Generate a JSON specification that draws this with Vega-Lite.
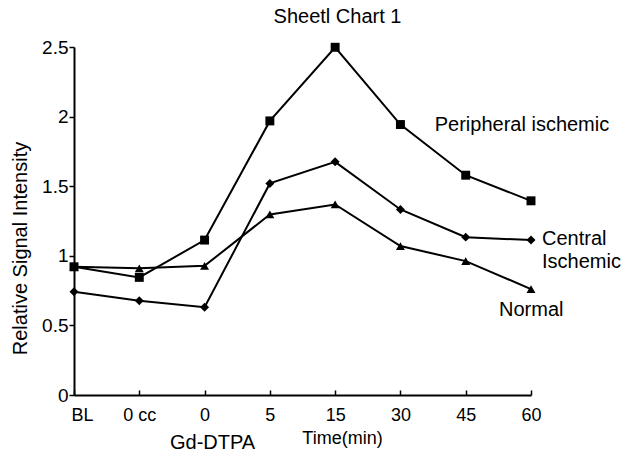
{
  "$schema": "https://vega.github.io/schema/vega-lite/v6.json",
  "width": 457,
  "height": 348,
  "autosize": {"type": "none"},
  "padding": {"left": 74, "top": 47, "right": 102, "bottom": 69},
  "background": "white",
  "title": {"text": "Sheetl Chart 1", "fontSize": 20, "font": "Liberation Sans", "fontWeight": "normal", "color": "black", "anchor": "middle", "frame": "group", "dx": 35, "offset": 11},
  "config": {"view": {"stroke": null}, "font": "Liberation Sans", "axis": {"titleFontWeight": "normal", "titleFont": "Liberation Sans", "labelFont": "Liberation Sans"}},
  "datasets": {
    "series": [
      {"series": "Peripheral ischemic", "t": "BL", "v": 0.921},
      {"series": "Peripheral ischemic", "t": "0 cc", "v": 0.845},
      {"series": "Peripheral ischemic", "t": "0", "v": 1.113},
      {"series": "Peripheral ischemic", "t": "5", "v": 1.969},
      {"series": "Peripheral ischemic", "t": "15", "v": 2.498},
      {"series": "Peripheral ischemic", "t": "30", "v": 1.943},
      {"series": "Peripheral ischemic", "t": "45", "v": 1.579},
      {"series": "Peripheral ischemic", "t": "60", "v": 1.395},
      {"series": "Central ischemic", "t": "BL", "v": 0.742},
      {"series": "Central ischemic", "t": "0 cc", "v": 0.677},
      {"series": "Central ischemic", "t": "0", "v": 0.63},
      {"series": "Central ischemic", "t": "5", "v": 1.52},
      {"series": "Central ischemic", "t": "15", "v": 1.675},
      {"series": "Central ischemic", "t": "30", "v": 1.333},
      {"series": "Central ischemic", "t": "45", "v": 1.134},
      {"series": "Central ischemic", "t": "60", "v": 1.113},
      {"series": "Normal", "t": "BL", "v": 0.921},
      {"series": "Normal", "t": "0 cc", "v": 0.91},
      {"series": "Normal", "t": "0", "v": 0.928},
      {"series": "Normal", "t": "5", "v": 1.297},
      {"series": "Normal", "t": "15", "v": 1.369},
      {"series": "Normal", "t": "30", "v": 1.07},
      {"series": "Normal", "t": "45", "v": 0.962},
      {"series": "Normal", "t": "60", "v": 0.761}
    ]
  },
  "layer": [
    {
      "data": {"name": "series"},
      "mark": {"type": "line", "color": "black", "strokeWidth": 2},
      "encoding": {
        "x": {
          "field": "t", "type": "ordinal",
          "scale": {"type": "point", "domain": ["BL", "0 cc", "0", "5", "15", "30", "45", "60"], "padding": 0},
          "axis": {
            "title": "Time(min)", "titleFontSize": 18, "titleFontWeight": "normal", "titleColor": "black",
            "titleX": 268, "titleY": 43, "titleBaseline": "middle", "titleAlign": "center",
            "labelAngle": 0, "labelFontSize": 18, "labelColor": "black", "labelPadding": 16,
            "labelOffset": {"condition": {"test": "datum.value === 'BL'", "value": 8}, "value": 0},
            "domainColor": "black", "domainWidth": 2, "tickColor": "black", "tickWidth": 1.5, "tickSize": -5
          }
        },
        "y": {
          "field": "v", "type": "quantitative",
          "scale": {"domain": [0, 2.5], "nice": false, "zero": true},
          "axis": {
            "values": [0, 0.5, 1, 1.5, 2, 2.5], "format": ".1~f", "grid": false,
            "title": "Relative Signal Intensity", "titleFontSize": 20, "titleFontWeight": "normal", "titleColor": "black",
            "titleX": -54, "titleY": 201, "titleAlign": "center", "titleBaseline": "middle", "titleAngle": -90,
            "labelFontSize": 19, "labelColor": "black", "labelPadding": 1,
            "domainColor": "black", "domainWidth": 2, "tickColor": "black", "tickWidth": 1.5, "tickSize": 5
          }
        },
        "detail": {"field": "series"}
      }
    },
    {
      "data": {"name": "series"},
      "mark": {"type": "point", "filled": true, "color": "black", "opacity": 1, "size": 80},
      "encoding": {
        "x": {"field": "t", "type": "ordinal"},
        "y": {"field": "v", "type": "quantitative"},
        "shape": {
          "field": "series", "type": "nominal",
          "scale": {"domain": ["Peripheral ischemic", "Central ischemic", "Normal"], "range": ["square", "diamond", "triangle-up"]},
          "legend": null
        }
      }
    },
    {
      "data": {"values": [{"label": "Peripheral ischemic", "t": "45", "v": 1.94}]},
      "mark": {"type": "text", "align": "left", "baseline": "middle", "dx": -31, "fontSize": 20, "color": "black"},
      "encoding": {
        "x": {"field": "t", "type": "ordinal"},
        "y": {"field": "v", "type": "quantitative"},
        "text": {"field": "label"}
      }
    },
    {
      "data": {"values": [{"label": "Central\nIschemic", "t": "60", "v": 1.124}]},
      "mark": {"type": "text", "align": "left", "baseline": "middle", "dx": 11, "fontSize": 20, "color": "black", "lineBreak": "\n", "lineHeight": 23},
      "encoding": {
        "x": {"field": "t", "type": "ordinal"},
        "y": {"field": "v", "type": "quantitative"},
        "text": {"field": "label"}
      }
    },
    {
      "data": {"values": [{"label": "Normal", "t": "60", "v": 0.61}]},
      "mark": {"type": "text", "align": "left", "baseline": "middle", "dx": -32, "fontSize": 20, "color": "black"},
      "encoding": {
        "x": {"field": "t", "type": "ordinal"},
        "y": {"field": "v", "type": "quantitative"},
        "text": {"field": "label"}
      }
    },
    {
      "data": {"values": [{"label": "Gd-DTPA", "t": "0", "v": 0}]},
      "mark": {"type": "text", "align": "center", "baseline": "middle", "dx": 8, "dy": 48, "fontSize": 20, "color": "black"},
      "encoding": {
        "x": {"field": "t", "type": "ordinal"},
        "y": {"field": "v", "type": "quantitative"},
        "text": {"field": "label"}
      }
    }
  ]
}
